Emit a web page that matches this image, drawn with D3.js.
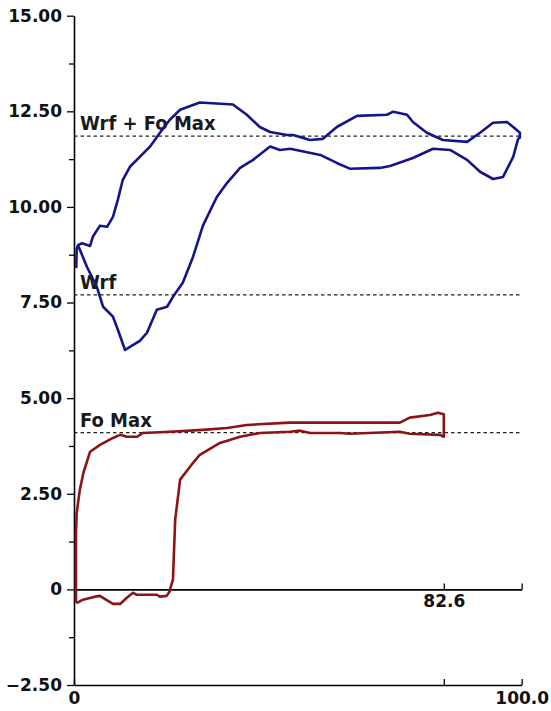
<!DOCTYPE html>
<html>
<head>
<meta charset="utf-8">
<script src="https://cdn.jsdelivr.net/npm/d3@7"></script>
<style>
  body { margin: 0; background: #fff; }
  svg { display: block; }
  .tick text { font-family: "DejaVu Sans", Verdana, sans-serif; font-weight: bold; font-size: 17px; fill: #111; }
  .ref-label { font-family: "DejaVu Sans Condensed", "Liberation Sans", Arial, sans-serif; font-weight: bold; font-size: 20px; fill: #1a1a1a; }
</style>
</head>
<body>
<svg id="chart"></svg>
<script>
// top (blue) trace: Wrf + Fo, read left->right along upper branch then back along the lower one
const wrfFoUpper = [
  [0.5, 8.4], [0.6, 8.9], [0.9, 9.0], [1.8, 9.05], [3.6, 8.98], [4.2, 9.22], [5.8, 9.51],
  [7.4, 9.48], [8.7, 9.74], [9.8, 10.19], [10.9, 10.71], [12.5, 11.05], [14.7, 11.31],
  [17.0, 11.58], [19.2, 11.94], [21.4, 12.28], [23.7, 12.54], [28.1, 12.73], [35.5, 12.68],
  [38.6, 12.41], [41.5, 12.09], [43.8, 11.96], [47.6, 11.88], [48.9, 11.88], [50.5, 11.83],
  [52.7, 11.75], [55.6, 11.78], [58.7, 12.09], [63.2, 12.38], [69.9, 12.41], [71.3, 12.49],
  [74.4, 12.41], [75.7, 12.22], [78.8, 11.94], [82.4, 11.75], [87.8, 11.70], [90.7, 11.94],
  [93.6, 12.20], [96.7, 12.22], [98.1, 12.09], [99.6, 11.94], [99.6, 11.81]
];
const wrfFoLower = [
  [99.2, 11.78], [98.1, 11.31], [95.8, 10.78], [93.6, 10.73], [90.7, 10.92], [87.8, 11.23],
  [84.0, 11.49], [80.2, 11.52], [75.7, 11.28], [70.6, 11.07], [68.3, 11.02], [61.6, 11.00],
  [58.7, 11.15], [55.0, 11.36], [48.3, 11.52], [46.0, 11.49], [43.8, 11.58], [40.0, 11.23],
  [37.1, 11.02], [34.2, 10.63], [31.9, 10.26], [28.8, 9.51], [26.6, 8.70], [24.3, 8.02],
  [22.1, 7.65], [20.8, 7.39], [18.5, 7.31], [16.3, 6.71], [14.7, 6.50], [12.5, 6.34],
  [11.4, 6.26], [9.8, 6.79], [8.7, 7.13], [6.5, 7.39], [5.1, 7.91], [2.9, 8.43], [0.9, 9.0]
];

// bottom (red) trace: Fo
const foUpper = [
  [0.45, -0.34], [0.45, 1.5], [0.6, 2.0], [1.3, 2.6], [2.1, 3.05], [3.6, 3.6], [5.8, 3.78],
  [8.7, 3.96], [10.3, 4.04], [11.8, 3.99], [14.1, 3.99], [15.4, 4.09], [21.4, 4.12],
  [28.8, 4.17], [34.2, 4.22], [38.6, 4.30], [48.2, 4.36], [56.5, 4.36], [72.8, 4.36],
  [75.0, 4.49], [79.5, 4.56], [81.3, 4.62], [82.6, 4.58], [82.6, 4.22]
];
const foLower = [
  [82.6, 3.99], [81.8, 4.04], [75.0, 4.07], [72.8, 4.12], [61.6, 4.07], [59.4, 4.09],
  [52.7, 4.09], [50.5, 4.15], [48.2, 4.12], [41.5, 4.09], [37.1, 3.99], [32.6, 3.83],
  [28.1, 3.52], [26.6, 3.31], [23.7, 2.87], [22.6, 1.82], [22.1, 0.25], [21.4, -0.01],
  [21.4, -0.05], [20.7, -0.17], [19.2, -0.19], [18.5, -0.14], [17.6, -0.14], [14.0, -0.14],
  [13.2, -0.09], [11.8, -0.22], [10.3, -0.38], [8.7, -0.38], [6.5, -0.22], [5.8, -0.17],
  [4.7, -0.19], [2.0, -0.27], [0.9, -0.34], [0.45, -0.34]
];

const refValues = [11.85, 7.7, 4.1];
const refLabels = ["Wrf + Fo Max", "Wrf", "Fo Max"];

const yMajor = [15, 12.5, 10, 7.5, 5, 2.5, 0, -2.5];
const yMinor = [13.75, 11.25, 8.75, 6.25, 3.75, 1.25, -1.25];
const xTicks = [0, 82.6, 100];
const xTickLabels = ["0", "", "100.0"];
const zeroTicks = [82.6, 100];
const zeroTickLabels = ["82.6", ""];

const svgWidth = 551, svgHeight = 711;

const svg = d3.select("#chart")
  .attr("width", svgWidth)
  .attr("height", svgHeight);

const x = d3.scaleLinear().domain([0, 100]).range([74, 521.7]);
const y = d3.scaleLinear().domain([-2.5, 15]).range([685, 15.7]);

// dashed reference lines + their labels
refValues.forEach((v, i) => {
  svg.append("line")
    .attr("x1", x(0)).attr("x2", x(100))
    .attr("y1", y(v)).attr("y2", y(v))
    .attr("stroke", "#222")
    .attr("stroke-width", 1.3)
    .attr("stroke-dasharray", "3.5,3");
  svg.append("text")
    .attr("class", "ref-label")
    .attr("x", x(0) + 6)
    .attr("y", y(v) - 6)
    .text(refLabels[i]);
});

// y axis, major then minor ticks
const yAxis = svg.append("g")
  .attr("transform", `translate(${x(0)},0)`)
  .call(d3.axisLeft(y).tickValues(yMajor).tickSize(7).tickSizeOuter(0).tickPadding(5)
    .tickFormat(d => d === 0 ? "0" : d3.format(".2f")(d)));
svg.append("g")
  .attr("transform", `translate(${x(0)},0)`)
  .call(d3.axisLeft(y).tickValues(yMinor).tickSize(5).tickSizeOuter(0).tickFormat(""))
  .select(".domain").remove();

// bottom axis, ticks pointing up into the plot
svg.append("g")
  .attr("transform", `translate(0,${y(-2.5)})`)
  .call(d3.axisBottom(x).tickValues(xTicks).tickSizeInner(-6).tickSizeOuter(0).tickPadding(7)
    .tickFormat((d, i) => xTickLabels[i]));

// zero line with its own ticks
svg.append("g")
  .attr("transform", `translate(0,${y(0)})`)
  .call(d3.axisBottom(x).tickValues(zeroTicks).tickSizeInner(-6).tickSizeOuter(0).tickPadding(6)
    .tickFormat((d, i) => zeroTickLabels[i]));

svg.selectAll(".domain").attr("stroke", "#000").attr("stroke-width", 1.6);
svg.selectAll(".tick line").attr("stroke", "#000").attr("stroke-width", 1.3);

const line = d3.line().x(d => x(d[0])).y(d => y(d[1]));

svg.append("path")
  .datum(foUpper.concat(foLower))
  .attr("d", line)
  .attr("fill", "none")
  .attr("stroke", "#8b1414")
  .attr("stroke-width", 2.6)
  .attr("stroke-linejoin", "round");

svg.append("path")
  .datum(wrfFoUpper.concat(wrfFoLower))
  .attr("d", line)
  .attr("fill", "none")
  .attr("stroke", "#15158a")
  .attr("stroke-width", 2.6)
  .attr("stroke-linejoin", "round");
</script>
</body>
</html>
